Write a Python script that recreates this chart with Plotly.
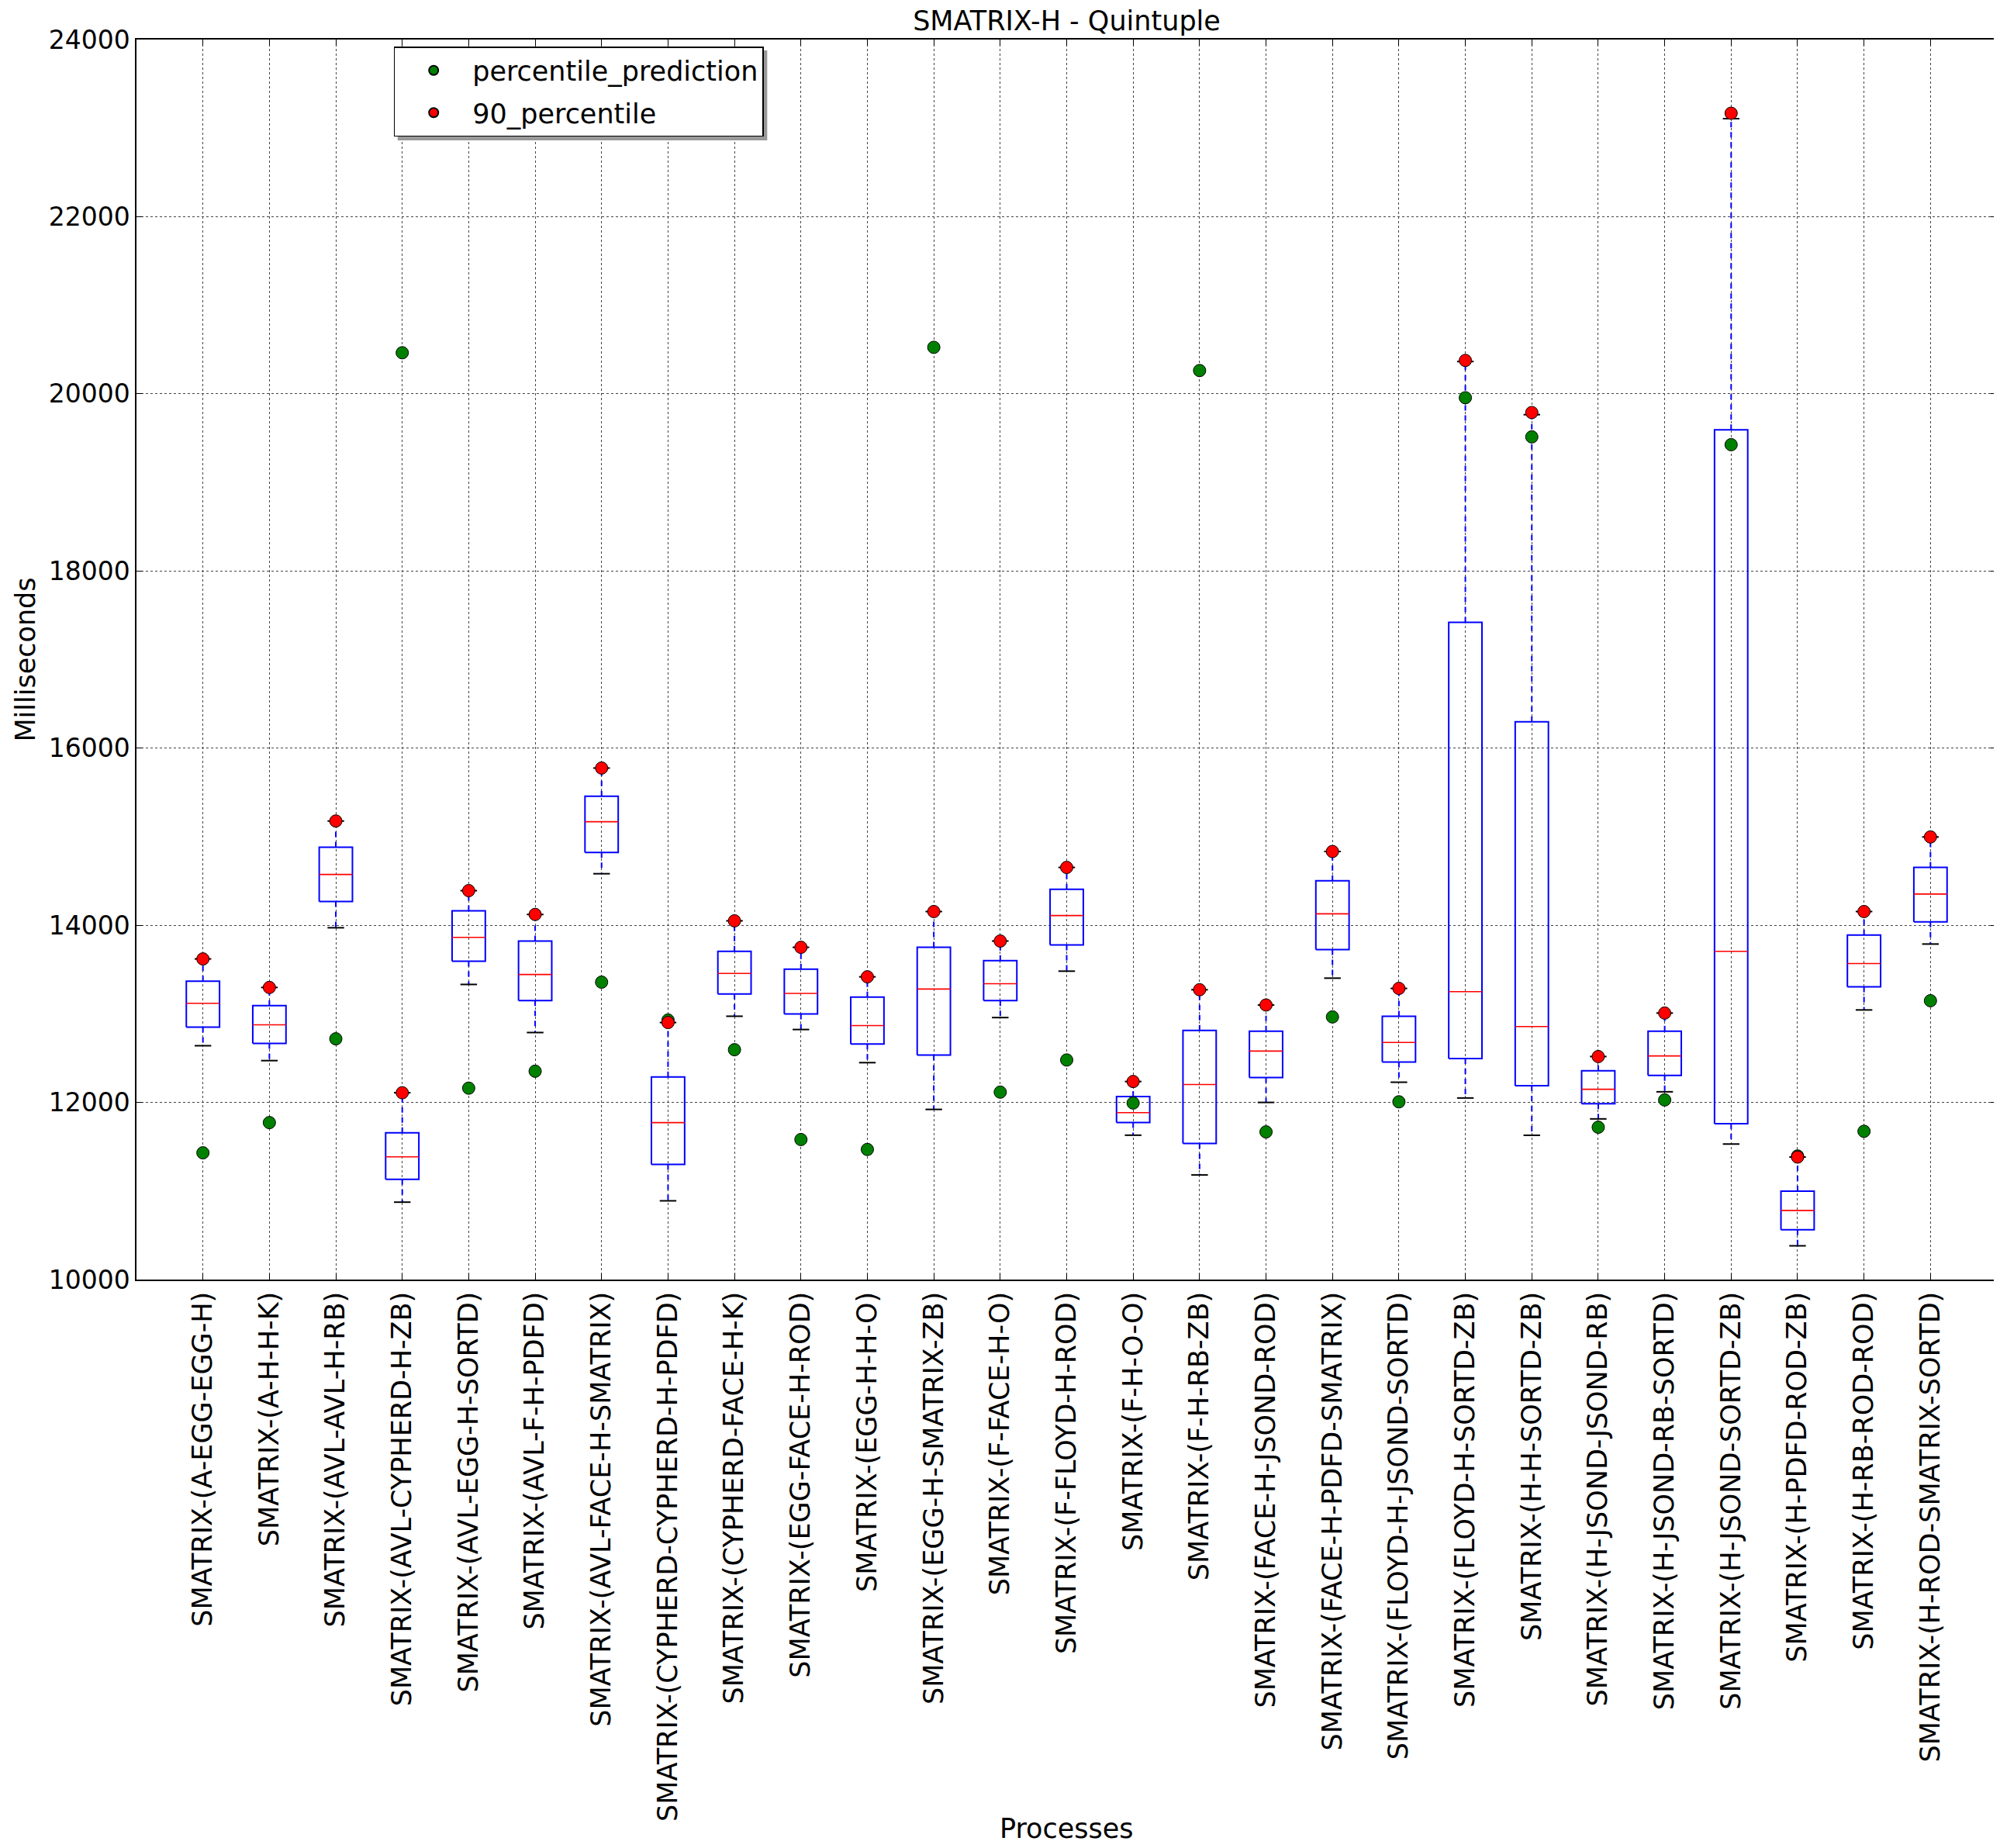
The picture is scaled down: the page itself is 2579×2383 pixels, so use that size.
import plotly.graph_objects as go

categories = [
    "SMATRIX-(A-EGG-EGG-H)",
    "SMATRIX-(A-H-H-K)",
    "SMATRIX-(AVL-AVL-H-RB)",
    "SMATRIX-(AVL-CYPHERD-H-ZB)",
    "SMATRIX-(AVL-EGG-H-SORTD)",
    "SMATRIX-(AVL-F-H-PDFD)",
    "SMATRIX-(AVL-FACE-H-SMATRIX)",
    "SMATRIX-(CYPHERD-CYPHERD-H-PDFD)",
    "SMATRIX-(CYPHERD-FACE-H-K)",
    "SMATRIX-(EGG-FACE-H-ROD)",
    "SMATRIX-(EGG-H-H-O)",
    "SMATRIX-(EGG-H-SMATRIX-ZB)",
    "SMATRIX-(F-FACE-H-O)",
    "SMATRIX-(F-FLOYD-H-ROD)",
    "SMATRIX-(F-H-O-O)",
    "SMATRIX-(F-H-RB-ZB)",
    "SMATRIX-(FACE-H-JSOND-ROD)",
    "SMATRIX-(FACE-H-PDFD-SMATRIX)",
    "SMATRIX-(FLOYD-H-JSOND-SORTD)",
    "SMATRIX-(FLOYD-H-SORTD-ZB)",
    "SMATRIX-(H-H-SORTD-ZB)",
    "SMATRIX-(H-JSOND-JSOND-RB)",
    "SMATRIX-(H-JSOND-RB-SORTD)",
    "SMATRIX-(H-JSOND-SORTD-ZB)",
    "SMATRIX-(H-PDFD-ROD-ZB)",
    "SMATRIX-(H-RB-ROD-ROD)",
    "SMATRIX-(H-ROD-SMATRIX-SORTD)",
]

whisker_low = [12640, 12472, 13972, 10874, 13332, 12789, 14582, 10889, 12973, 12823,
               12449, 11921, 12958, 13482, 11630, 11181, 12000, 13403, 12228, 12050,
               11629, 11814, 12120, 11530, 10381, 13044, 13788]
q1 = [12849, 12666, 14268, 11132, 13594, 13149, 14821, 11300, 13224, 12999,
      12659, 12535, 13149, 13777, 11772, 11536, 12281, 13725, 12457, 12495,
      12188, 11985, 12305, 11760, 10562, 13306, 14039]
median = [13119, 12876, 14574, 11386, 13863, 13444, 15169, 11772, 13456, 13231,
          12868, 13280, 13340, 14110, 11884, 12202, 12580, 14129, 12677, 13250,
          12856, 12148, 12525, 13706, 10780, 13568, 14353]
q3 = [13369, 13093, 14881, 11656, 14163, 13822, 15457, 12288, 13706, 13504,
      13190, 13751, 13601, 14406, 12067, 12812, 12805, 14503, 12973, 17420,
      16297, 12357, 12805, 19593, 10998, 13889, 14653]
whisker_high = [13620, 13298, 15177, 12109, 14391, 14122, 15775, 12902, 14050, 13751,
                13418, 14155, 13822, 14653, 12236, 13272, 13100, 14833, 13287, 20365,
                19765, 12518, 13009, 23107, 11383, 14155, 14997]
percentile_prediction = [11431, 11772, 12718, 20464, 12161, 12352, 13358, 12930, 12595, 11581,
                         11469, 20525, 12116, 12479, 11993, 20263, 11667, 12965, 12007, 19956,
                         19514, 11720, 12028, 19426, 11395, 11674, 13148]
percentile_90 = [13620, 13298, 15177, 12109, 14391, 14122, 15775, 12902, 14050, 13751,
                 13418, 14155, 13822, 14653, 12236, 13272, 13100, 14833, 13287, 20377,
                 19789, 12518, 13009, 23168, 11383, 14155, 14997]

positions = list(range(1, len(categories) + 1))
BOX_HALF = 0.25
CAP_HALF = 0.125
FONT = "DejaVu Sans"

box_x, box_y = [], []
med_x, med_y = [], []
wh_x, wh_y = [], []
cap_x, cap_y = [], []
for p, lo, a, m, b, hi in zip(positions, whisker_low, q1, median, q3, whisker_high):
    box_x += [p - BOX_HALF, p + BOX_HALF, p + BOX_HALF, p - BOX_HALF, p - BOX_HALF, None]
    box_y += [a, a, b, b, a, None]
    med_x += [p - BOX_HALF, p + BOX_HALF, None]
    med_y += [m, m, None]
    wh_x += [p, p, None, p, p, None]
    wh_y += [b, hi, None, a, lo, None]
    cap_x += [p - CAP_HALF, p + CAP_HALF, None, p - CAP_HALF, p + CAP_HALF, None]
    cap_y += [hi, hi, None, lo, lo, None]

fig = go.Figure()
fig.add_trace(go.Scatter(x=box_x, y=box_y, mode="lines", line=dict(color="blue", width=2),
                         showlegend=False, hoverinfo="skip"))
fig.add_trace(go.Scatter(x=wh_x, y=wh_y, mode="lines",
                         line=dict(color="blue", width=2, dash="7px,6px"),
                         showlegend=False, hoverinfo="skip"))
fig.add_trace(go.Scatter(x=cap_x, y=cap_y, mode="lines", line=dict(color="black", width=2),
                         showlegend=False, hoverinfo="skip"))
fig.add_trace(go.Scatter(x=med_x, y=med_y, mode="lines", line=dict(color="red", width=1.6),
                         showlegend=False, hoverinfo="skip"))
fig.add_trace(go.Scatter(x=positions, y=percentile_prediction, mode="markers",
                         name="percentile_prediction", legendgroup="g1",
                         marker=dict(color="green", size=16, line=dict(color="black", width=1))))
fig.add_trace(go.Scatter(x=positions, y=percentile_90, mode="markers",
                         name="90_percentile", legendgroup="g2",
                         marker=dict(color="red", size=16, line=dict(color="black", width=1))))

W, H = 2579, 2383
L, R, T, B = 168, 10, 43, 741
plot_w = W - L - R
plot_h = H - T - B

# legend box (pixels) and its thin drop shadow
LEG_X, LEG_Y = 500, 52
SH_X0, SH_X1, SH_Y0, SH_Y1 = 505, 982, 57, 173

fig.update_layout(
    width=W, height=H,
    margin=dict(l=L, r=R, t=T, b=B),
    paper_bgcolor="white", plot_bgcolor="white",
    font=dict(family=FONT, size=35, color="black"),
    title=dict(text="SMATRIX-H - Quintuple", x=0.5, xref="paper", xanchor="center",
               y=1 - 19 / H, yref="container", yanchor="middle",
               font=dict(family=FONT, size=35, color="black")),
    showlegend=True,
    legend=dict(x=(LEG_X - L) / plot_w, y=1 - (LEG_Y - T) / plot_h, xanchor="left", yanchor="top",
                bgcolor="white", bordercolor="black", borderwidth=1.5,
                itemwidth=90, tracegroupgap=6,
                font=dict(family=FONT, size=35, color="black"), itemsizing="constant"),
    shapes=[dict(type="rect", xref="paper", yref="paper", layer="above",
                 x0=(SH_X0 - L) / plot_w, x1=(SH_X1 - L) / plot_w,
                 y0=1 - (SH_Y1 - T) / plot_h, y1=1 - (SH_Y0 - T) / plot_h,
                 fillcolor="#999999", line=dict(width=0))],
    annotations=[
        dict(text="Processes", x=0.5, xref="paper", y=-(2350 - (H - B)) / plot_h, yref="paper",
             showarrow=False, xanchor="center", yanchor="middle",
             font=dict(family=FONT, size=35, color="black")),
        dict(text="Milliseconds", x=-(L - 24) / plot_w, xref="paper", y=0.5, yref="paper",
             showarrow=False, xanchor="center", yanchor="middle", textangle=-90,
             font=dict(family=FONT, size=35, color="black")),
    ],
)

fig.update_xaxes(range=[0, len(categories) + 1], tickmode="array", tickvals=positions,
                 ticktext=categories, tickangle=-90,
                 showgrid=True, gridcolor="#444", griddash="dot", gridwidth=1,
                 zeroline=False, showline=True, linecolor="black", linewidth=1.5, mirror="ticks",
                 ticks="inside", ticklen=8, tickcolor="black",
                 tickfont=dict(family=FONT, size=35, color="black"))
fig.update_yaxes(range=[10000, 24000], dtick=2000, tick0=10000, tickformat="d",
                 showgrid=True, gridcolor="#444", griddash="dot", gridwidth=1,
                 zeroline=False, showline=True, linecolor="black", linewidth=1.5, mirror="ticks",
                 ticks="inside", ticklen=8, tickcolor="black",
                 tickfont=dict(family=FONT, size=33, color="black"))

fig.write_html("out.html")
